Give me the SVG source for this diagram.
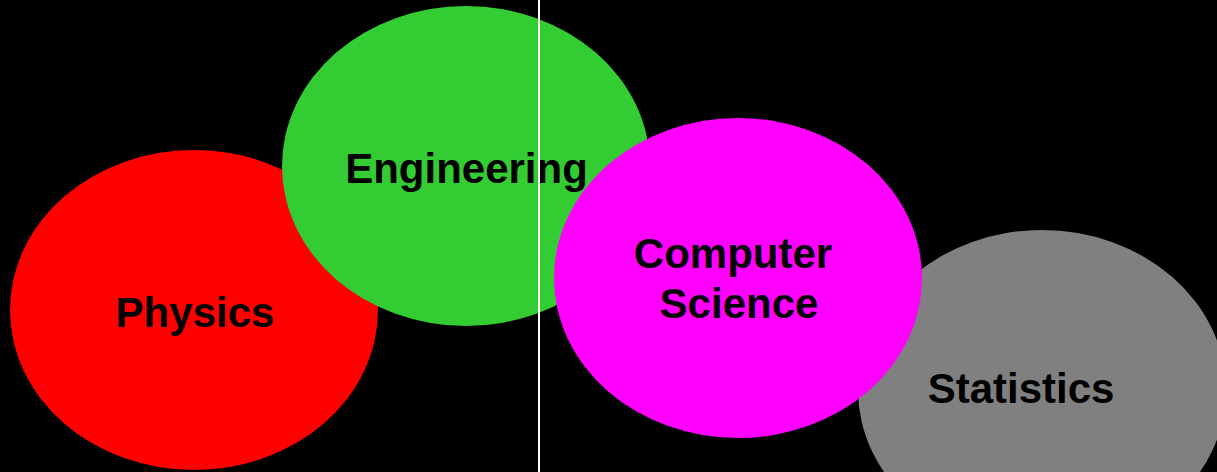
<svg xmlns="http://www.w3.org/2000/svg" width="1217" height="472" viewBox="0 0 1217 472">
<style>
.lbl{font-family:"Liberation Sans",Arial,sans-serif;font-weight:bold;font-size:42px;fill:#000;text-anchor:middle}
</style>
<rect x="0" y="0" width="1217" height="472" fill="#000"/>
<g id="physics">
<ellipse cx="194" cy="310" rx="184" ry="160" fill="#FF0000"/>
<text class="lbl" x="195" y="327">Physics</text>
</g>
<g id="engineering">
<ellipse cx="466" cy="166" rx="184" ry="160" fill="#33CC33"/>
<text class="lbl" x="466.5" y="183">Engineering</text>
</g>
<g id="statistics">
<ellipse cx="1042" cy="390" rx="184" ry="160" fill="#808080"/>
<text class="lbl" x="1021" y="403">Statistics</text>
</g>
<g id="computer-science">
<ellipse cx="738" cy="278" rx="184" ry="160" fill="#FF00FF"/>
<text class="lbl" x="733" y="268">Computer</text>
<text class="lbl" x="739" y="318">Science</text>
</g>
<g id="connectors">
<line x1="539" y1="0" x2="539" y2="472" stroke="#FFFFFF" stroke-width="2"/>
</g>
</svg>
